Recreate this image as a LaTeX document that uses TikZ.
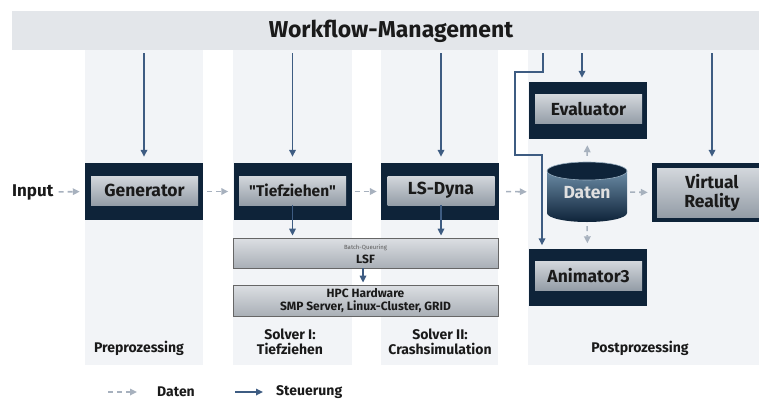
\documentclass[tikz,border=0pt]{standalone}
\usepackage{fontspec}
\setmainfont{Fira Sans}[Ligatures=TeXOff]
\usetikzlibrary{arrows.meta,calc}

\definecolor{navy}{HTML}{0E2339}
\definecolor{ctrlc}{HTML}{3E5C82}
\definecolor{datac}{HTML}{A7B1BE}
\definecolor{colbg}{HTML}{F2F4F7}
\definecolor{barbg}{HTML}{E3E6EA}
\definecolor{txt}{HTML}{1A1A1A}
\definecolor{gtop}{HTML}{D3D7DC}
\definecolor{gmid}{HTML}{E2E5E8}
\definecolor{gbot}{HTML}{949DA7}
\definecolor{ltop}{HTML}{DCDFE3}
\definecolor{lbot}{HTML}{A9AFB6}
\definecolor{cyltop}{HTML}{6A8AA4}

\begin{document}
\begin{tikzpicture}[x=1pt,y=-1pt,
  colrect/.style={fill=colbg, draw=none},
  darkbox/.style={fill=navy, draw=none, minimum width=118pt, minimum height=57pt, inner sep=0pt},
  innerbox/.style={top color=gtop, middle color=gmid, bottom color=gbot, draw=none,
     minimum width=107pt, minimum height=29pt, inner sep=0pt, text=txt,
     font=\fontsize{17.5}{18}\bfseries\selectfont},
  graybox/.style={top color=ltop, bottom color=lbot, draw=black!60, line width=0.8pt,
     minimum width=265pt, inner sep=0pt, text=txt, align=center},
  lbl/.style={text=txt, font=\fontsize{14}{15}\bfseries\selectfont, align=center},
  ctrl/.style={draw=ctrlc, line width=1.6pt, -{Triangle[length=7pt,width=6.5pt]}},
  data/.style={draw=datac, line width=1.6pt, dash pattern=on 5pt off 4pt,
     -{Triangle[length=7pt,width=6.5pt]}},
]
\useasboundingbox (0,0) rectangle (759,399);
\clip (0,0) rectangle (759,399);

% columns
\fill[colrect] (85,50) rectangle (203,365);
\fill[colrect] (233,50) rectangle (352,365);
\fill[colrect] (381,50) rectangle (498,365);
\fill[colrect] (528,50) rectangle (759,365);

% top bar
\node[fill=barbg, minimum width=760pt, minimum height=39pt, inner sep=0pt] (wf) at (392,30.5) {};
\node[text=txt, font=\fontsize{23}{24}\bfseries\selectfont] (wft) at (391,31) {Workflow-Management};

% process boxes
\node[darkbox] (gen) at (144,191.5) {};
\node[innerbox] (genI) at (144.5,190.5) {Generator};
\node[darkbox] (tief) at (292.5,191.5) {};
\node[innerbox, font=\fontsize{15.5}{16}\bfseries\selectfont] (tiefI) at (292.5,190.5) {"Tiefziehen"};
\node[darkbox] (ls) at (440,191.5) {};
\node[innerbox] (lsI) at (441,190.5) {LS-Dyna};
\node[darkbox] (ev) at (587.5,110.5) {};
\node[innerbox] (evI) at (588.5,109) {Evaluator};
\node[darkbox] (an) at (587.5,277) {};
\node[innerbox] (anI) at (588.5,275.5) {Animator3};
\node[fill=navy, minimum width=120pt, minimum height=59pt, inner sep=0pt] (vr) at (712,192.5) {};
\node[innerbox, minimum width=110pt, minimum height=49pt, align=center,
      font=\fontsize{17.5}{19}\bfseries\selectfont] (vrI) at (712,192.5) {Virtual\\Reality};

% input
\node[text=txt, font=\fontsize{17}{18}\bfseries\selectfont, anchor=west, inner sep=0pt] (in) at (12,192) {Input};

% LSF and HPC
\node[graybox, minimum height=30pt] (lsf) at (365.5,253) {};
\node[text=black!65, font=\fontsize{6}{7}\selectfont] (lsft) at (365.5,247.5) {Batch-Queuring};
\node[text=txt, font=\fontsize{12}{13}\bfseries\selectfont] (lsfl) at (365.5,259.5) {LSF};
\node[graybox, minimum height=31pt, font=\fontsize{12}{13.5}\bfseries\selectfont] (hpc) at (365.5,300.5)
  {HPC Hardware\\SMP Server, Linux-Cluster, GRID};

% database cylinder
\node[minimum width=80pt, minimum height=60pt, inner sep=0pt] (db) at (587,192) {};
\shade[top color=cyltop, bottom color=navy] (547,171) -- (547,213)
   arc[start angle=180, end angle=0, x radius=40, y radius=9] -- (627,171) -- cycle;
\filldraw[fill=navy, draw=cyltop!70, line width=0.6pt] (587,171) ellipse [x radius=40, y radius=9];
\node[text=black!12, font=\fontsize{17.5}{18}\bfseries\selectfont] (dbt) at (587,193) {Daten};

% control arrows from workflow management
\draw[ctrl, shorten <=3pt, shorten >=6pt] (wf.south -| gen.north) -- (gen.north);
\draw[ctrl, shorten <=3pt, shorten >=6pt] (wf.south -| tief.north) -- (tief.north);
\draw[ctrl, shorten <=3pt, shorten >=6pt] (wf.south -| lsI.north) -- (lsI.north |- ls.north);
\draw[ctrl, shorten <=3pt, shorten >=4pt] (wf.south -| 582,0) -- (582,0 |- ev.north);
\draw[ctrl, shorten <=3pt, shorten >=6pt] (wf.south -| vr.north) -- (vr.north);
\draw[ctrl, shorten <=3pt, shorten >=3pt] (wf.south -| 543,0) -- (543,72) -- (515,72)
   -- (515,155) -- (542,155) -- (542,0 |- an.north);

% control arrows to batch system
\draw[ctrl, shorten >=2pt] (tiefI.south) -- (tiefI.south |- lsf.north);
\draw[ctrl, shorten >=2pt] (lsI.south) -- (lsI.south |- lsf.north);
\draw[ctrl, shorten >=2pt] (363,0 |- lsf.south) -- (363,0 |- hpc.north);

% data arrows
\draw[data, shorten <=5pt, shorten >=5pt] (in.east) -- (gen.west);
\draw[data, shorten <=4pt, shorten >=5pt] (gen.east) -- (tief.west);
\draw[data, shorten <=3pt, shorten >=4pt] (tief.east) -- (ls.west);
\draw[data, shorten <=7pt, shorten >=20pt] (ls.east) -- (db.west);
\draw[data, shorten <=3pt, shorten >=4pt] (db.east) -- (vr.west);
\draw[data, shorten <=6pt, shorten >=6pt] (db.north) -- (ev.south);
\draw[data, shorten <=4pt, shorten >=5pt] (db.south) -- (an.north);

% column labels
\node[lbl] (c1) at (139,348) {Preprozessing};
\node[lbl] (c2) at (290,341.5) {Solver I:\\Tiefziehen};
\node[lbl] (c3) at (440,341.5) {Solver II:\\Crashsimulation};
\node[lbl] (c4) at (640,348) {Postprozessing};

% legend
\coordinate (la) at (108,392);
\coordinate (lb) at (137,392);
\draw[data] (la) -- (lb);
\node[lbl, anchor=west, inner sep=0pt] (ld) at (157,392) {Daten};
\coordinate (lc) at (235,392);
\coordinate (ldd) at (263,392);
\draw[ctrl] (lc) -- (ldd);
\node[lbl, anchor=west, inner sep=0pt] (ls2) at (276,392) {Steuerung};
\end{tikzpicture}
\end{document}
